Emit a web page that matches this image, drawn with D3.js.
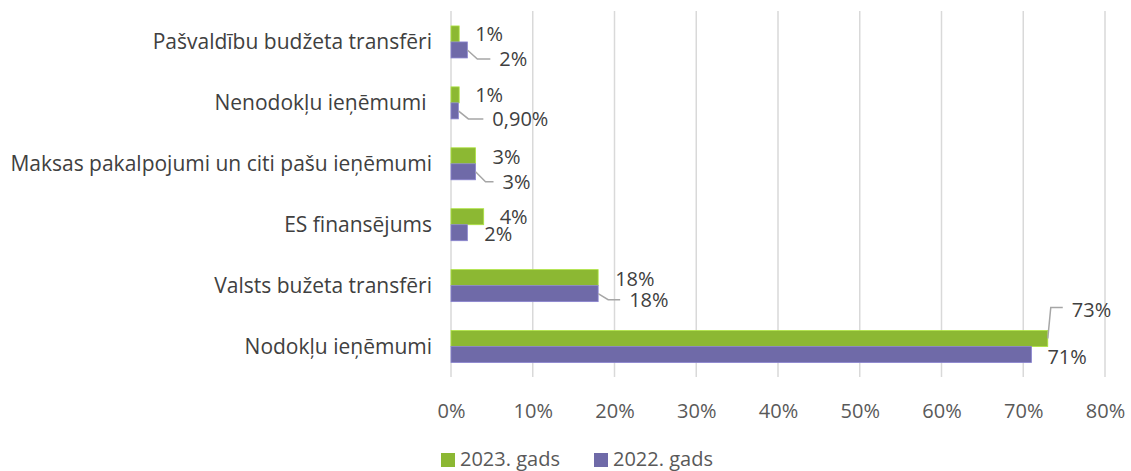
<html>
<head>
<meta charset="utf-8">
<script src="https://cdn.jsdelivr.net/npm/d3@7"></script>
<style>
  body { margin: 0; background: #fff; }
  text { font-family: "Open Sans", sans-serif; }
  .cat { font-size: 21px; fill: #404040; white-space: pre; }
  .tick text { font-size: 20px; fill: #595959; font-family: "Open Sans", sans-serif; }
  .lbl { font-size: 20px; fill: #404040; }
  .leg { font-size: 20px; fill: #595959; }
</style>
</head>
<body>
<script>
var categories = ['Pašvaldību budžeta transfēri', 'Nenodokļu ieņēmumi ', 'Maksas pakalpojumi un citi pašu ieņēmumi', 'ES finansējums', 'Valsts bužeta transfēri', 'Nodokļu ieņēmumi'];
var series = ['2023. gads', '2022. gads'];
var values2023 = [1, 1, 3, 4, 18, 73];
var values2022 = [2, 0.9, 3, 2, 18, 71];
var labels2023 = ['1%', '1%', '3%', '4%', '18%', '73%'];
var labels2022 = ['2%', '0,90%', '3%', '2%', '18%', '71%'];
var ticks = [0, 10, 20, 30, 40, 50, 60, 70, 80];
var colors = ['#8cb833', '#6f6aa8'];

// label placement relative to bar end / bar centre: [dx, dy, leader]
var off2023 = [[16, 0, 0], [16, 0, 0], [17, 1, 0], [16, 0, 0], [17, 1, 0], [24, -29, 1]];
var off2022 = [[32, 9, 1], [34, 8, 1], [27, 10, 1], [17, 1, 0], [31, 6, 1], [16, 2, 0]];

var W = 1131, H = 471;
var svg = d3.select('body').append('svg').attr('width', W).attr('height', H);

var x = d3.scaleLinear().domain([0, 80]).range([451, 1105]);
var y = d3.scaleBand().domain(categories).range([11.5, 377]);
var yIn = d3.scaleBand().domain(series).range([0, 32]);

// gridlines
svg.selectAll('.grid').data(ticks).enter().append('line')
  .attr('x1', function(d) { return x(d); }).attr('x2', function(d) { return x(d); })
  .attr('y1', 11).attr('y2', 377)
  .attr('stroke', '#d9d9d9').attr('stroke-width', 1.5);

var xAxis = svg.append('g').attr('transform', 'translate(0,377)')
  .call(d3.axisBottom(x).tickValues(ticks).tickSize(0).tickPadding(27).tickFormat(function(d) { return d + '%'; }));
xAxis.select('.domain').remove();

svg.selectAll('.cat').data(categories).enter().append('text')
  .attr('class', 'cat')
  .attr('x', 432)
  .attr('y', function(d) { return y(d) + y.bandwidth() / 2; })
  .attr('dy', '0.35em')
  .attr('text-anchor', 'end')
  .text(function(d) { return d; });

var rows = categories.map(function(c, i) {
  return [
    { cat: c, s: series[0], v: values2023[i], lab: labels2023[i], o: off2023[i], col: colors[0] },
    { cat: c, s: series[1], v: values2022[i], lab: labels2022[i], o: off2022[i], col: colors[1] }
  ];
});
var flat = [].concat.apply([], rows);

function by(d) { return y(d.cat) + y.bandwidth() / 2 - 16 + yIn(d.s); }

svg.selectAll('.bar').data(flat).enter().append('rect')
  .attr('x', x(0))
  .attr('y', by)
  .attr('width', function(d) { return x(d.v) - x(0); })
  .attr('height', yIn.bandwidth())
  .attr('fill', function(d) { return d.col; })
  .attr('stroke', function(d) { return d3.color(d.col).brighter(0.6); })
  .attr('stroke-width', 0.8);

// leader lines
flat.forEach(function(d) {
  if (!d.o[2]) return;
  var x0 = x(d.v), y0 = by(d) + 8;
  var tx = x0 + d.o[0], ty = y0 + d.o[1];
  var pts;
  if (d.o[1] < 0) {
    pts = [[x0, y0], [x0 + 3, ty - 2], [tx - 9, ty - 2]];
  } else {
    pts = [[x0, y0], [x0 + 10, ty], [tx - 9, ty]];
  }
  svg.append('path')
    .attr('d', d3.line()(pts))
    .attr('fill', 'none').attr('stroke', '#a6a6a6').attr('stroke-width', 1.5);
});

svg.selectAll('.lbl').data(flat).enter().append('text')
  .attr('class', 'lbl')
  .attr('x', function(d) { return x(d.v) + d.o[0]; })
  .attr('y', function(d) { return by(d) + 8 + d.o[1]; })
  .attr('dy', '0.35em')
  .text(function(d) { return d.lab; });

// legend
var leg = svg.append('g').attr('transform', 'translate(0,459)');
var lx = [441, 594];
series.forEach(function(s, i) {
  leg.append('rect').attr('x', lx[i]).attr('y', -6).attr('width', 14).attr('height', 14).attr('fill', colors[i]);
  leg.append('text').attr('class', 'leg').attr('x', lx[i] + 19).attr('y', 0).attr('dy', '0.35em').text(s);
});
</script>
</body>
</html>
